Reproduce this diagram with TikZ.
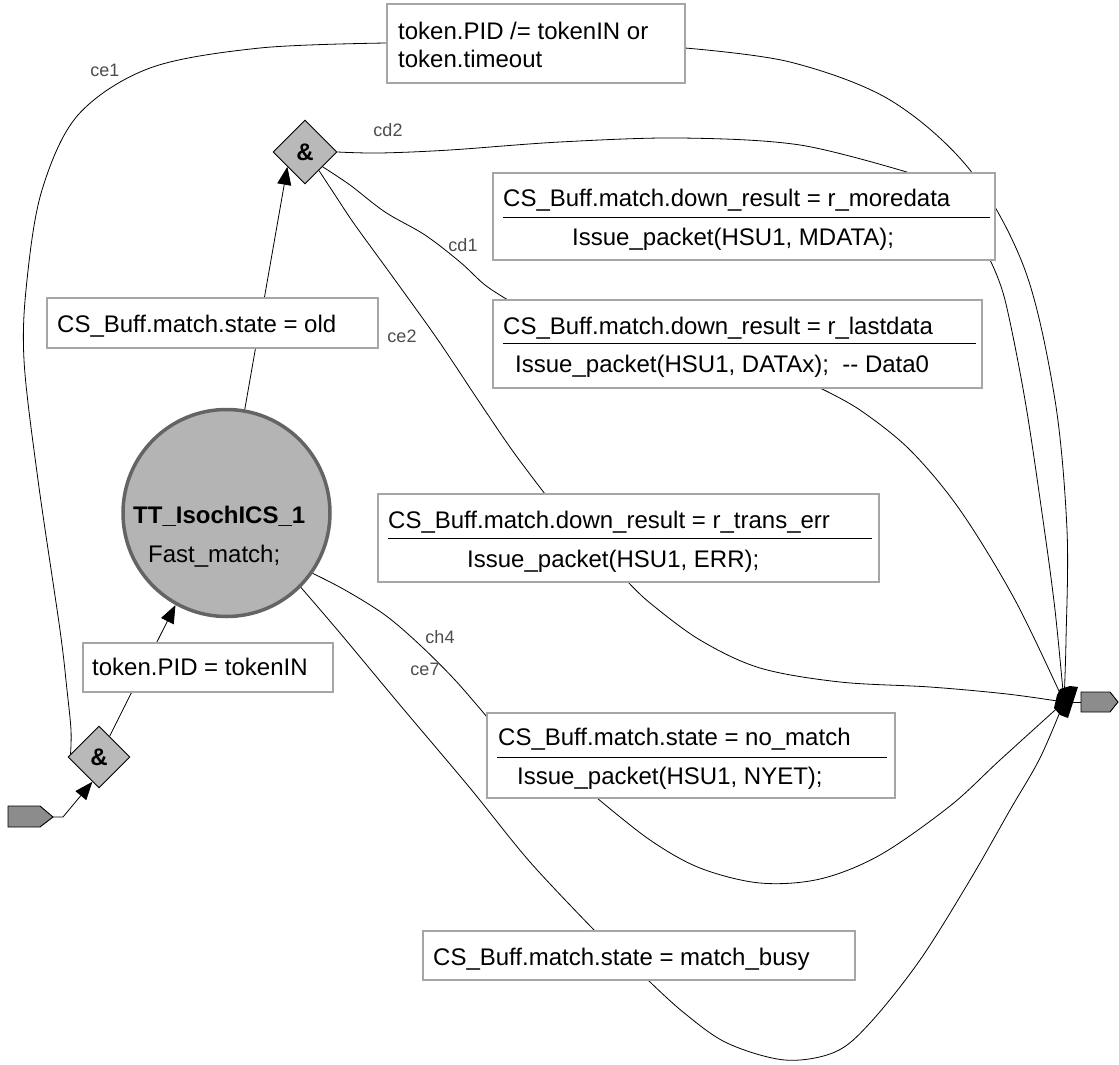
\documentclass[tikz,border=0pt]{standalone}
\usepackage{fontspec}
\setmainfont{Liberation Sans}
\usetikzlibrary{shapes.geometric,arrows.meta}
\definecolor{stfill}{HTML}{B4B4B4}
\definecolor{stline}{HTML}{646464}
\definecolor{dfill}{HTML}{B9B9B9}
\definecolor{pfill}{HTML}{8C8C8C}
\definecolor{boxline}{HTML}{A6A6A6}
\definecolor{lblgray}{HTML}{4D4D4D}
\begin{document}
\frenchspacing
\begin{tikzpicture}[x=1pt,y=-1pt,
  edge/.style={draw=black, line width=0.8pt},
  arr/.style={edge, -{Triangle[length=18pt,width=14pt]}},
  crv/.style={edge, smooth, tension=0.55},
  box/.style={draw=boxline, fill=white, line width=1.2pt, inner sep=0pt, outer sep=0pt, anchor=north west},
  txt/.style={anchor=base west, inner sep=0pt, font=\fontsize{24}{28}\selectfont},
  lbl/.style={anchor=center, inner sep=0pt, text=lblgray, font=\fontsize{18}{20}\selectfont},
  sepline/.style={draw=black, line width=0.9pt},
  andgate/.style={diamond, draw=black, fill=dfill, line width=0.9pt, inner sep=0pt, font=\bfseries\fontsize{24}{28}\selectfont},
  port/.style={draw=black, fill=pfill, line width=0.9pt}]

\useasboundingbox (0,0) rectangle (1119,1065);

% ---------- main nodes ----------
\node[circle, minimum size=207pt, fill=stfill, draw=stline, line width=3.5pt, inner sep=0pt] (st) at (226.5,513) {};
\node[andgate, minimum width=64pt, minimum height=64pt] (dtop) at (305,152) {\&};
\node[andgate, minimum width=62pt, minimum height=62pt] (dbot) at (99,757) {\&};
\coordinate (inport) at (53,817);
\coordinate (junc) at (1064,702);

% boxes (declared for anchors; drawn later on top)
\path
  node[box, minimum width=298pt, minimum height=79pt] (btop) at (387,4) {}
  node[box, minimum width=502pt, minimum height=87pt] (bmore) at (493,173) {}
  node[box, minimum width=489pt, minimum height=88pt] (blast) at (493,300) {}
  node[box, minimum width=331pt, minimum height=50pt] (bold) at (47,298) {}
  node[box, minimum width=250pt, minimum height=49pt] (btok) at (83,643) {}
  node[box, minimum width=501pt, minimum height=88pt] (berr) at (378,494) {}
  node[box, minimum width=408pt, minimum height=85pt] (bnom) at (487,713) {}
  node[box, minimum width=432pt, minimum height=49pt] (bbusy) at (423,931) {};

% ---------- connectors ----------
% ce1
\draw[crv] plot coordinates {(dbot.174) (71,730) (67,690) (60,630) (38,480) (24,360) (27,280) (42,190) (78,115) (150,68) (260,48) ([yshift=-39pt]btop.north west)};
\draw[crv] plot coordinates {([yshift=-44pt]btop.north east) (790,62) (890,100) (970,170) (1025,270) (1055,400) (1067,530) (1066,640) (junc)};
% cd2
\draw[crv] plot coordinates {(dtop.east) (380,153) (450,150) (560,142) (680,138) (800,145) ([xshift=417pt]bmore.north west)};
\draw[crv] plot coordinates {([xshift=497pt]bmore.south west) (1005,300) (1025,400) (1043,520) (1055,610) (junc)};
% cd1
\draw[crv] plot coordinates {(dtop.-40) (350,185) (385,212) (425,235) (460,262) (485,285) ([xshift=15pt]blast.north west)};
\draw[crv] plot coordinates {([xshift=327pt]blast.south west) (860,410) (910,450) (960,510) (1015,600) (junc)};
% ce2
\draw[crv] plot coordinates {(dtop.-53) (335,195) (355,225) (395,280) (438,340) (478,400) (512,450) ([xshift=167pt]berr.north west)};
\draw[crv] plot coordinates {([xshift=250pt]berr.south west) (650,603) (700,640) (760,668) (840,682) (930,687) (1007,694) (junc)};
% ch4
\draw[crv] plot coordinates {(st.-35) (345,590) (385,615) (420,645) (455,680) ([yshift=-4pt]bnom.north west)};
\draw[crv] plot coordinates {([xshift=110pt]bnom.south west) (650,840) (700,868) (760,883) (820,879) (880,855) (950,806) (1000,760) (junc)};
% ce7
\draw[crv] plot coordinates {(st.-45) (340,633) (400,705) (470,788) (530,862) ([xshift=172pt]bbusy.north west)};
\draw[crv] plot coordinates {([xshift=225pt]bbusy.south west) (683,1012) (727,1043) (785,1060) (835,1052) (870,1023) (920,960) (970,880) (1010,810) (1040,758) (junc)};

% arrows
\draw[arr] (inport) -- ++(10,0) -- (dbot.-105);
\draw[arr] (dbot.63) -- (st.-119);
\draw[arr] (st.80) -- (dtop.-140);

% ---------- boxes on top ----------
\foreach \b in {btop,bmore,blast,bold,btok,berr,bnom,bbusy}
  \draw[draw=boxline, fill=white, line width=1.2pt] (\b.north west) rectangle (\b.south east);

\draw[sepline] (503,217) -- (990,217);
\draw[sepline] (503,343) -- (976,343);
\draw[sepline] (388,538) -- (872,538);
\draw[sepline] (497,757) -- (887,757);

% box texts
\node[txt] (t1a) at (398,40) {token.PID /= tokenIN or};
\node[txt] (t1b) at (398,67) {token.timeout};
\node[txt] (t2a) at (503,206) {CS\_Buff.match.down\_result = r\_moredata};
\node[txt] (t2b) at (572,245) {Issue\_packet(HSU1, MDATA);};
\node[txt] (t3a) at (503,334) {CS\_Buff.match.down\_result = r\_lastdata};
\node[txt] (t3b) at (515,372) {Issue\_packet(HSU1, DATAx);\ \ -{}- Data0};
\node[txt] (t4) at (57,332) {CS\_Buff.match.state = old};
\node[txt] (t5) at (92,675) {token.PID = tokenIN};
\node[txt] (t6a) at (388,528) {CS\_Buff.match.down\_result = r\_trans\_err};
\node[txt] (t6b) at (467,567) {Issue\_packet(HSU1, ERR);};
\node[txt] (t7a) at (498,745) {CS\_Buff.match.state = no\_match};
\node[txt] (t7b) at (517,784) {Issue\_packet(HSU1, NYET);};
\node[txt] (t8) at (433,965) {CS\_Buff.match.state = match\_busy};

% state texts
\node[txt, font=\bfseries\fontsize{24}{28}\selectfont] (sname) at (133,523) {TT\_IsochICS\_1};
\node[txt] (sact) at (148,562) {Fast\_match;};

% edge labels
\node[lbl] (lce1) at (105,70) {ce1};
\node[lbl] (lcd2) at (388,130) {cd2};
\node[lbl] (lcd1) at (463,245) {cd1};
\node[lbl] (lce2) at (402,336) {ce2};
\node[lbl] (lch4) at (440,637) {ch4};
\node[lbl] (lce7) at (425,669) {ce7};

% ports
\draw[port] (8,806) -- (40,806) -- (53,817) -- (40,827) -- (8,827) -- cycle;
\draw[edge] (junc) -- (1081,702);
\fill[black] (1060,689) -- (1070,686) -- (1078,687) -- (1068,718) -- (1060,715) -- (1054,708) -- (1057,695) -- cycle;
\draw[port] (1081,692) -- (1110,692) -- (1118,702) -- (1110,712) -- (1081,712) -- cycle;
\end{tikzpicture}
\end{document}
